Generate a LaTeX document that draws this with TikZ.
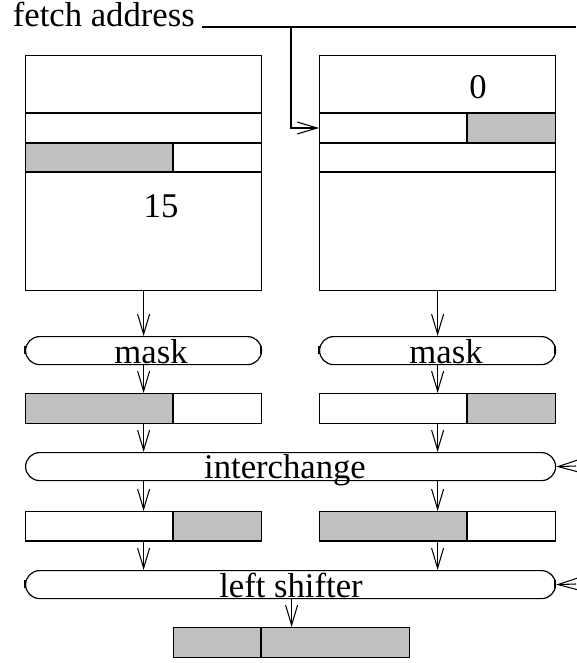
\documentclass[tikz,border=0pt]{standalone}
\usepackage{fontspec}
\setmainfont{Liberation Serif}
\usetikzlibrary{arrows.meta}
\definecolor{cellgray}{RGB}{192,192,192}
\tikzset{
  box/.style={draw, line width=0.9pt, inner sep=0pt, anchor=north west},
  pill/.style={draw, line width=0.9pt, inner sep=0pt, anchor=north west, rounded corners=10.5pt},
  lbl/.style={font=\fontsize{26}{30}\selectfont, inner sep=0pt, anchor=base},
  arr/.style={line width=0.8pt, -{Straight Barb[length=15pt,width=9pt,line width=0.8pt]}},
  tick/.style={line width=2.2pt},
  wire/.style={line width=0.8pt}
}
\begin{document}
\begin{tikzpicture}[x=0.75pt,y=-0.75pt]
\useasboundingbox (0,0) rectangle (576,663);
% fetch address
\node[lbl, anchor=base east] (fa) at (195,27) {fetch address};
\coordinate (f0) at (202,27);
\coordinate (f1) at (576,27);
\coordinate (fj) at (291,27);
\draw[wire] (f0) -- (f1);
% left register file
\fill[cellgray] (25,143) rectangle (173,172);
\node[box, minimum width=177pt, minimum height=176.25pt] (L) at (25,55) {};
\draw[wire] (25,113) -- (261,113) (25,143) -- (261,143) (25,172) -- (261,172) (173,143) -- (173,172);
\node[lbl] (n15) at (161,217) {15};
% right register file
\fill[cellgray] (467,113) rectangle (555,143);
\node[box, minimum width=177pt, minimum height=176.25pt] (R) at (319,55) {};
\draw[wire] (319,113) -- (555,113) (319,143) -- (555,143) (319,172) -- (555,172) (467,113) -- (467,143);
\node[lbl] (n0) at (478,99) {0};
\coordinate (rin) at (319,128);
\draw[arr] (fj) |- (rin);
% masks
\node[pill, minimum width=177pt, minimum height=21pt] (ML) at (25,336) {};
\node[pill, minimum width=177pt, minimum height=21pt] (MR) at (319,336) {};
\node[lbl] (tml) at (151,363) {mask};
\node[lbl] (tmr) at (446,363) {mask};
\draw[tick] (25,346) -- (25,354) (261,346) -- (261,354) (319,346) -- (319,354) (555,346) -- (555,354);
\draw[arr] (L.south) -- (ML.north);
\draw[arr] (R.south) -- (MR.north);
% masked words
\fill[cellgray] (25,393) rectangle (173,423);
\node[box, minimum width=177pt, minimum height=22.5pt] (WL) at (25,393) {};
\draw[wire] (173,393) -- (173,423);
\fill[cellgray] (467,393) rectangle (555,423);
\node[box, minimum width=177pt, minimum height=22.5pt] (WR) at (319,393) {};
\draw[wire] (467,393) -- (467,423);
\draw[arr] (ML.south) -- (WL.north);
\draw[arr] (MR.south) -- (WR.north);
% interchange
\node[pill, minimum width=397.5pt, minimum height=21pt] (IC) at (25,452) {};
\node[lbl] (tic) at (285,478) {interchange};
\draw[arr] (WL.south) -- (WL.south |- IC.north);
\draw[arr] (WR.south) -- (WR.south |- IC.north);
\coordinate (icin) at (576,466);
\draw[arr] (icin) -- (IC.east);
% swapped words
\fill[cellgray] (173,511) rectangle (261,540);
\node[box, minimum width=177pt, minimum height=22pt] (SL) at (25,511) {};
\draw[wire] (173,511) -- (173,540);
\fill[cellgray] (319,511) rectangle (467,540);
\node[box, minimum width=177pt, minimum height=22pt] (SR) at (319,511) {};
\draw[wire] (467,511) -- (467,540);
\draw[arr] (SL.north |- IC.south) -- (SL.north);
\draw[arr] (SR.north |- IC.south) -- (SR.north);
% left shifter
\node[pill, minimum width=397.5pt, minimum height=21pt] (LS) at (25,570) {};
\node[lbl] (tls) at (291,597) {left shifter};
\draw[arr] (SL.south) -- (SL.south |- LS.north);
\draw[arr] (SR.south) -- (SR.south |- LS.north);
\coordinate (lsin) at (576,584);
\draw[arr] (lsin) -- (LS.east);
\draw[tick] (25,580) -- (25,588) (555,580) -- (555,588);
% result
\fill[cellgray] (173,627) rectangle (409,657);
\node[box, minimum width=177pt, minimum height=22.5pt] (B) at (173,627) {};
\draw[wire] (261,627) -- (261,657);
\draw[arr] (B.north |- LS.south) -- (B.north);
\end{tikzpicture}
\end{document}
